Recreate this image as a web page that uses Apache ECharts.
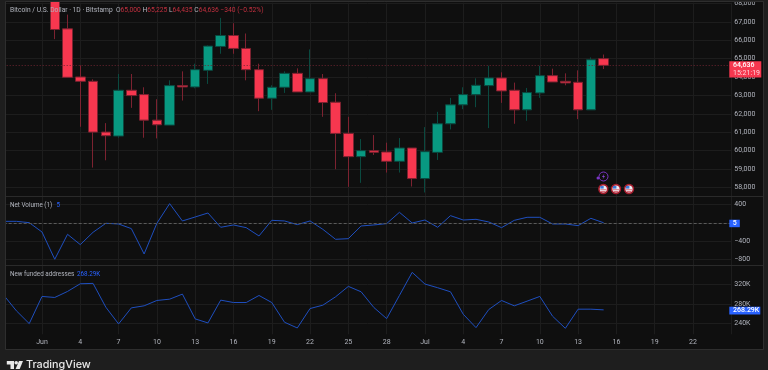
<!DOCTYPE html>
<html>
<head>
<meta charset="utf-8">
<style>
html, body { margin: 0; padding: 0; background: #1e1e1e; }
#box { width: 768px; height: 370px; }
</style>
<script src="https://cdn.jsdelivr.net/npm/echarts@6/dist/echarts.min.js"></script>
</head>
<body>
<div id="box"></div>
<script>
// first day is May 29, tick labels every third day
const days = ['29', '30', '31', 'Jun', '2', '3', '4', '5', '6', '7', '8', '9', '10', '11', '12', '13', '14', '15', '16', '17', '18', '19', '20', '21', '22', '23', '24', '25', '26', '27', '28', '29', '30',
    'Jul', '2', '3', '4', '5', '6', '7', '8', '9', '10', '11', '12', '13', '14', '15', '16', '17', '18', '19', '20', '21', '22', '23', '24', '25'];

// May 29 - Jun 1 sit above the visible price range
const opens = [null, null, null, null, 68500, 66621, 64004, 63769, 61007, 60791, 63282, 63047, 61657, 61386, 63534, 63462, 64365, 65664, 66260, 65556, 64401, 62849, 63444, 64202, 63191, 63913, 62632, 60935, 59672, 59997, 59924, 59419, 60141, 58480, 59906, 61459, 62488, 63047, 63534, 63950, 63282, 62217, 63137, 64076, 63769, 63715, 62217, 65000];
const closes = [null, null, null, null, 66585, 63986, 63769, 61007, 60809, 63282, 62993, 61657, 61405, 63534, 63462, 64401, 65682, 66260, 65556, 64401, 62849, 63444, 64202, 63191, 63913, 62614, 60935, 59672, 59997, 59906, 59419, 60141, 58480, 59942, 61459, 62488, 63047, 63552, 63950, 63246, 62217, 63155, 64076, 63733, 63679, 62217, 64942, 64636];
const lows = [null, null, null, null, 66061, 63968, 61296, 59076, 59473, 60700, 62325, 60700, 60664, 61386, 62722, 63390, 63625, 65267, 65267, 63823, 62144, 62217, 63137, 63191, 63191, 61838, 58986, 58029, 58246, 59762, 58805, 58805, 58047, 57722, 59491, 61152, 62253, 62361, 61224, 62596, 61459, 61621, 62867, 63733, 63552, 61711, 62217, 64435];
const highs = [null, null, null, null, 68900, 67397, 64635, 63877, 61495, 64166, 64166, 63444, 62794, 63823, 64311, 64726, 65718, 67217, 66928, 66368, 64726, 63552, 64311, 64473, 65502, 64166, 63119, 61838, 60628, 60845, 60430, 60683, 60141, 61278, 62108, 62867, 63444, 63932, 64617, 64256, 63697, 63408, 64617, 64455, 64202, 64365, 65069, 65225];

const netVolume = [36, 36, 7, -196, -792, -247, -472, -203, -7, -22, -123, -676, -7, 422, 44, 131, 218, -94, -43, -102, -283, 58, 44, -36, 44, -138, -356, -342, -65, -43, -14, 233, 0, 65, -94, 160, 65, 80, 22, -102, 58, 124, 124, -22, -22, -58, 102, 5];
const fundedAddresses = [298.6, 266.2, 240, 295.9, 293.8, 306.2, 322, 322.8, 273.8, 239.3, 272.4, 276.6, 287.6, 290.3, 300.7, 249.7, 241.4, 288.3, 283.4, 283.4, 297.9, 283.4, 242.8, 231, 271, 277.9, 295.2, 316.6, 305.5, 273.1, 250.3, 297.9, 345.5, 321.4, 313.8, 305.5, 259.3, 231.7, 269, 287.6, 276.6, 286.2, 295.9, 255.2, 230.3, 269.7, 269.7, 268.29];

const priceTicks = [58000, 59000, 60000, 61000, 62000, 63000, 64000, 65000, 66000, 67000, 68000];
const volumeTicks = [-800, -400, 0, 400];
const addressTicks = [240, 280, 320];

const lastPrice = 64636;
const lastVolume = 5;

const UP = '#089981';
const DOWN = '#f7374f';
const LINE = '#1f4fbf';
const BLUE = '#2962ff';
const GRID = '#1d1d1d';
const TEXT = '#b2b5be';
const FONT = 'Roboto, sans-serif';

const candles = opens.map((o, i) => [o, closes[i], lows[i], highs[i]]);

function paneAxisX(grid, showLabel) {
    return {
        type: 'category',
        gridIndex: grid,
        data: days,
        boundaryGap: false,
        axisLine: { show: false },
        axisTick: { show: false },
        axisLabel: {
            show: showLabel,
            interval: 2,
            showMinLabel: false,
            showMaxLabel: false,
            margin: 4,
            color: TEXT,
            fontSize: 7,
            fontFamily: FONT,
            // nothing printed at the two edges of the time scale
            formatter: function (v, i) { return i === 0 || i === days.length - 1 ? '' : v; }
        },
        splitLine: { show: true, interval: 2, lineStyle: { color: GRID, width: 1 } }
    };
}

function paneAxisY(grid, min, max, ticks, fmt) {
    return {
        type: 'value',
        gridIndex: grid,
        position: 'right',
        min: min,
        max: max,
        scale: true,
        axisLine: { show: false },
        axisTick: { show: false, customValues: ticks },
        axisLabel: { customValues: ticks, margin: 3, padding: [2, 0, 0, 0], color: TEXT, fontSize: 7, fontFamily: FONT, formatter: fmt },
        splitLine: { show: true, lineStyle: { color: GRID, width: 1 } }
    };
}

function thousands(v) {
    return String(v).replace(/\B(?=(\d{3})+$)/g, ',');
}

function tag(x, y, w, h, fill) {
    return { type: 'rect', z: 20, shape: { x: x, y: y, width: w, height: h }, style: { fill: fill } };
}

function label(x, y, text, color, size, weight) {
    return {
        type: 'text', z: 21, x: x, y: y,
        style: { text: text, fill: color, fontSize: size || 7, fontFamily: FONT, fontWeight: weight || 400, verticalAlign: 'middle' }
    };
}

function flag(cx) {
    return [
        { type: 'circle', z: 20, shape: { cx: cx, cy: 189, r: 4.4 }, style: { fill: '#eceef4', stroke: '#a51d2d', lineWidth: 1.6 } },
        { type: 'rect', z: 21, shape: { x: cx - 3, y: 189.4, width: 6, height: 0.8 }, style: { fill: '#d9505e' } },
        { type: 'rect', z: 21, shape: { x: cx - 2.4, y: 191, width: 4.8, height: 0.8 }, style: { fill: '#d9505e' } },
        { type: 'rect', z: 21, shape: { x: cx - 3, y: 186, width: 3.4, height: 2.6 }, style: { fill: '#3d7ad8' } }
    ];
}

const chart = echarts.init(document.getElementById('box'), null, { renderer: 'canvas' });

const option = {
    animation: false,
    backgroundColor: '#1e1e1e',
    grid: [
        { left: 3.7, width: 727.6, top: 2, height: 194 },
        { left: 3.7, width: 727.6, top: 196.3, height: 69 },
        { left: 3.7, width: 727.6, top: 265.3, height: 69 }
    ],
    xAxis: [paneAxisX(0, false), paneAxisX(1, false), paneAxisX(2, true)],
    yAxis: [
        paneAxisY(0, 57531, 68047, priceTicks, thousands),
        paneAxisY(1, -923, 582, volumeTicks, function (v) { return String(v).replace('-', '\u2212'); }),
        paneAxisY(2, 218, 360, addressTicks, function (v) { return v + 'K'; })
    ],
    series: [
        {
            type: 'candlestick',
            xAxisIndex: 0,
            yAxisIndex: 0,
            barWidth: 10,
            data: candles,
            itemStyle: { color: UP, color0: DOWN, borderColor: '#0a4a40', borderColor0: '#7c2230', borderWidth: 1 },
            markLine: {
                silent: true,
                symbol: 'none',
                label: { show: false },
                lineStyle: { color: '#6d2530', type: [1, 2], width: 1 },
                data: [{ yAxis: lastPrice }]
            }
        },
        {
            type: 'line',
            xAxisIndex: 1,
            yAxisIndex: 1,
            data: netVolume,
            showSymbol: false,
            lineStyle: { color: LINE, width: 1 },
            markLine: {
                silent: true,
                symbol: 'none',
                label: { show: false },
                lineStyle: { color: '#5a5a5a', type: [3, 2], width: 1 },
                data: [{ yAxis: lastVolume }]
            }
        },
        {
            type: 'line',
            xAxisIndex: 2,
            yAxisIndex: 2,
            data: fundedAddresses,
            showSymbol: false,
            lineStyle: { color: LINE, width: 1 }
        }
    ],
    graphic: [
        // pane background and frame
        { type: 'rect', z: -10, shape: { x: 6, y: 2, width: 757, height: 347 }, style: { fill: '#0f0f0f' } },
        { type: 'rect', z: 15, shape: { x: 0, y: 0, width: 768, height: 2 }, style: { fill: '#1e1e1e' } },
        { type: 'rect', z: 15, shape: { x: 0, y: 0, width: 5.5, height: 370 }, style: { fill: '#1e1e1e' } },
        { type: 'rect', z: 16, shape: { x: 5.5, y: 1.5, width: 758, height: 348 }, style: { fill: 'transparent', stroke: '#2e2e2e', lineWidth: 1 } },
        { type: 'line', z: 16, shape: { x1: 6, y1: 196.5, x2: 763, y2: 196.5 }, style: { stroke: '#2a2a2a', lineWidth: 1 } },
        { type: 'line', z: 16, shape: { x1: 6, y1: 265.5, x2: 763, y2: 265.5 }, style: { stroke: '#2a2a2a', lineWidth: 1 } },

        // legends
        {
            type: 'text', z: 21, x: 10, y: 10,
            style: {
                text: '{t|Bitcoin / U.S. Dollar \u00b7 1D \u00b7 Bitstamp}  {t|O}{r|65,000} {t|H}{r|65,225} {t|L}{r|64,435} {t|C}{r|64,636} {r|\u2212340 (\u22120.52%)}',
                verticalAlign: 'middle',
                fontFamily: FONT,
                fontSize: 6.7,
                rich: {
                    t: { fill: TEXT, fontSize: 6.7, fontFamily: FONT },
                    r: { fill: '#c2303f', fontSize: 6.7, fontFamily: FONT }
                }
            }
        },
        label(10, 205, 'Net Volume (1)', TEXT, 6.3),
        label(56.5, 205, '5', BLUE, 6.3),
        label(10, 274.5, 'New funded addresses', TEXT, 6.3),
        label(77, 274.5, '268.29K', BLUE, 6.3),

        // last value tags
        tag(729.3, 61.3, 32, 16.2, '#f7374f'),
        label(733, 65.3, '64,636', '#ffffff', 7, 500),
        label(733, 73, '15:21:19', '#ffd5da', 7),
        tag(729.3, 219.7, 10.5, 7.5, BLUE),
        label(732.8, 223.5, '5', '#ffffff', 7, 500),
        tag(729.3, 306.7, 31, 7.8, BLUE),
        label(733, 310.7, '268.29K', '#ffffff', 7, 500),

        // event icons
        { type: 'circle', z: 20, shape: { cx: 603.5, cy: 176.5, r: 4.5 }, style: { fill: 'transparent', stroke: '#7b35c4', lineWidth: 1 } },
        { type: 'polygon', z: 21, shape: { points: [[604.5, 173.5], [602, 177], [603.5, 177], [602.5, 179.5], [605, 176], [603.5, 176]] }, style: { fill: '#8a45d6' } },
        { type: 'circle', z: 21, shape: { cx: 598, cy: 178, r: 1.5 }, style: { fill: '#7b35c4' } }
    ].concat(flag(603.3), flag(616), flag(629), [
        // TradingView mark
        { type: 'polygon', z: 21, shape: { points: [[6.8, 361], [14, 361], [14, 369], [10.5, 369], [10.5, 364.5], [6.8, 364.5]] }, style: { fill: '#e8e8e8' } },
        { type: 'circle', z: 21, shape: { cx: 16.2, cy: 362.8, r: 1.8 }, style: { fill: '#e8e8e8' } },
        { type: 'polygon', z: 21, shape: { points: [[19, 361], [23, 361], [19.7, 369], [15.6, 369]] }, style: { fill: '#e8e8e8' } },
        {
            type: 'text', z: 21, x: 26, y: 365,
            style: { text: 'TradingView', fill: '#e8e8e8', fontSize: 10.8, fontWeight: 500, fontFamily: 'Inter, sans-serif', verticalAlign: 'middle' }
        }
    ])
};

chart.setOption(option);
</script>
</body>
</html>
